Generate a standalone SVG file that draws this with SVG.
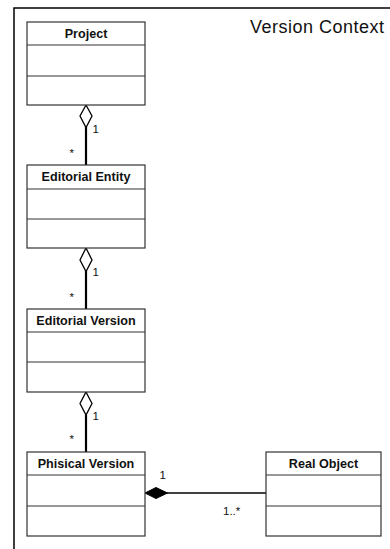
<svg xmlns="http://www.w3.org/2000/svg" width="390" height="549" viewBox="0 0 390 549">
<style>
.box{fill:#fff;stroke:#333;stroke-width:1.2}
.div{stroke:#333;stroke-width:1.2}
.hdr{font-family:"Liberation Sans",Arial,sans-serif;font-weight:bold;font-size:12.6px;fill:#111;text-anchor:middle}
.lbl{font-family:"Liberation Sans",Arial,sans-serif;font-size:11.5px;fill:#111}
.conn{stroke:#000;stroke-width:2.2;fill:none}
.agg{fill:#fff;stroke:#000;stroke-width:1.3}
.comp{fill:#000;stroke:#000;stroke-width:1}
</style>
<rect width="390" height="549" fill="#fff"/>
<g id="frame">
<path d="M14,549 V8 H390" fill="none" stroke="#000" stroke-width="1.5"/>
<text x="250" y="33" font-family="'Liberation Sans',Arial,sans-serif" font-size="18" fill="#111" textLength="134">Version Context</text>
</g>
<g id="connectors">
<line class="conn" x1="86" y1="127" x2="86" y2="165"/>
<path class="agg" d="M86,105 L92,116 L86,127.5 L80,116 Z"/>
<text class="lbl" x="92.5" y="133">1</text>
<text class="lbl" x="69.5" y="157">*</text>
<line class="conn" x1="86" y1="271" x2="86" y2="309"/>
<path class="agg" d="M86,248 L92,260 L86,271.5 L80,260 Z"/>
<text class="lbl" x="92.5" y="276">1</text>
<text class="lbl" x="69.5" y="301">*</text>
<line class="conn" x1="86" y1="415" x2="86" y2="452"/>
<path class="agg" d="M86,392 L92,403.5 L86,415 L80,403.5 Z"/>
<text class="lbl" x="92.5" y="420">1</text>
<text class="lbl" x="69.5" y="443">*</text>
<line x1="167" y1="493" x2="266" y2="493" stroke="#000" stroke-width="1.3"/>
<path class="comp" d="M145,493 L156,487.5 L167.5,493 L156,498.5 Z"/>
<text class="lbl" x="159.5" y="479">1</text>
<text class="lbl" x="223" y="515">1..*</text>
</g>
<g id="project">
<rect class="box" x="27" y="22" width="118" height="83"/>
<line class="div" x1="27" y1="45" x2="145" y2="45"/>
<line class="div" x1="27" y1="76" x2="145" y2="76"/>
<text class="hdr" x="86" y="38">Project</text>
</g>
<g id="editorial-entity">
<rect class="box" x="27" y="165" width="118" height="83"/>
<line class="div" x1="27" y1="189" x2="145" y2="189"/>
<line class="div" x1="27" y1="219" x2="145" y2="219"/>
<text class="hdr" x="86" y="181">Editorial Entity</text>
</g>
<g id="editorial-version">
<rect class="box" x="27" y="309" width="118" height="83"/>
<line class="div" x1="27" y1="332" x2="145" y2="332"/>
<line class="div" x1="27" y1="362" x2="145" y2="362"/>
<text class="hdr" x="86" y="325">Editorial Version</text>
</g>
<g id="phisical-version">
<rect class="box" x="27" y="452" width="118" height="84"/>
<line class="div" x1="27" y1="475" x2="145" y2="475"/>
<line class="div" x1="27" y1="506" x2="145" y2="506"/>
<text class="hdr" x="86" y="468">Phisical Version</text>
</g>
<g id="real-object">
<rect class="box" x="266" y="452" width="115" height="84"/>
<line class="div" x1="266" y1="475" x2="381" y2="475"/>
<line class="div" x1="266" y1="506" x2="381" y2="506"/>
<text class="hdr" x="323.5" y="468">Real Object</text>
</g>
</svg>
